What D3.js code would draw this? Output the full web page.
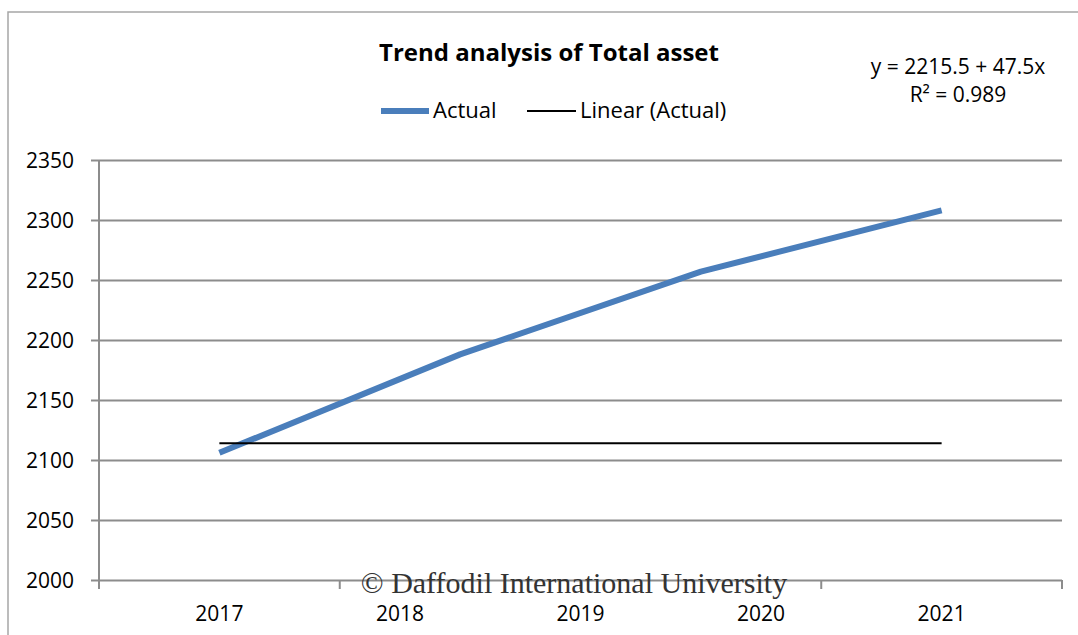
<!DOCTYPE html>
<html>
<head>
<meta charset="utf-8">
<script src="https://cdn.jsdelivr.net/npm/d3@7"></script>
<style>
  html, body { margin: 0; padding: 0; background: #fff; }
  svg { display: block; }
  text { font-family: "Open Sans", "Noto Sans", sans-serif; fill: #000; }
</style>
</head>
<body>
<div id="chart"></div>
<script>
// Total asset, yearly actual values and the fitted trend
const slots = ["p1", "p2", "p3", "p4"];
const actualValues = [2106, 2188, 2257, 2308];
const trendValue = 2114;
const yearLabels = [2017, 2018, 2019, 2020, 2021];
const yTicks = [2000, 2050, 2100, 2150, 2200, 2250, 2300, 2350];
const titleText = "Trend analysis of Total asset";
const equationLines = ["y = 2215.5 + 47.5x", "R² = 0.989"];
const legendNames = ["Actual", "Linear (Actual)"];

const W = 1078, H = 635;
const plot = { left: 99, right: 1062, top: 160, bottom: 580 };
const blue = "#4a7ebb";
const grid = "#8c8c8c";

const svg = d3.select("#chart").append("svg")
  .attr("width", W).attr("height", H);

// outer chart frame
svg.append("path")
  .attr("d", `M8,${H} V12 H${W}`)
  .attr("fill", "none").attr("stroke", "#a6a6a6").attr("stroke-width", 1.5);

const y = d3.scaleLinear().domain([2000, 2350]).range([plot.bottom, plot.top]);
const x = d3.scalePoint().domain(slots).range([plot.left, plot.right]).padding(0.5);
const band = d3.scaleBand().domain(slots).range([plot.left, plot.right]);
const yearX = d3.scaleLinear()
  .domain([yearLabels[0], yearLabels[yearLabels.length - 1]])
  .range([x(slots[0]), x(slots[slots.length - 1])]);

// horizontal gridlines with left ticks
const yAxis = d3.axisLeft(y).tickValues(yTicks).tickFormat(d3.format("d"))
  .tickSize(-(plot.right - plot.left)).tickPadding(14);
const gy = svg.append("g").attr("transform", `translate(${plot.left},0)`).call(yAxis)
  .attr("font-family", null).attr("font-size", null);
gy.select(".domain").remove();
gy.selectAll(".tick line").attr("stroke", grid).attr("stroke-width", 2);
gy.selectAll(".tick").append("line")
  .attr("x1", -8).attr("x2", 0).attr("stroke", grid).attr("stroke-width", 2);
gy.selectAll(".tick text")
  .style("font-size", "21px").style("fill", "#000")
  .attr("x", -25).attr("dy", "0.35em");

// vertical axis line
svg.append("line")
  .attr("x1", plot.left).attr("x2", plot.left)
  .attr("y1", plot.top).attr("y2", plot.bottom)
  .attr("stroke", grid).attr("stroke-width", 2);

// category boundary ticks along the bottom axis
const boundaries = slots.map(s => band(s)).concat([plot.right]);
svg.append("g").selectAll("line").data(boundaries).join("line")
  .attr("x1", d => d).attr("x2", d => d)
  .attr("y1", plot.bottom).attr("y2", plot.bottom + 9)
  .attr("stroke", grid).attr("stroke-width", 2);

// year labels
svg.append("g").selectAll("text").data(yearLabels).join("text")
  .attr("x", d => yearX(d)).attr("y", 621)
  .attr("text-anchor", "middle").style("font-size", "21px")
  .text(d => d);

// actual series
const line = d3.line().x((d, i) => x(slots[i])).y(d => y(d));
svg.append("path").datum(actualValues)
  .attr("d", line).attr("fill", "none")
  .attr("stroke", blue).attr("stroke-width", 6).attr("stroke-linejoin", "round");

// linear trend
svg.append("line")
  .attr("x1", x(slots[0])).attr("x2", x(slots[slots.length - 1]))
  .attr("y1", y(trendValue)).attr("y2", y(trendValue))
  .attr("stroke", "#000").attr("stroke-width", 2);

// title
svg.append("text").attr("x", 549).attr("y", 61)
  .attr("text-anchor", "middle").style("font-size", "24px").attr("font-weight", "bold")
  .text(titleText);

// regression equation
svg.append("g").selectAll("text").data(equationLines).join("text")
  .attr("x", 958).attr("y", (d, i) => 74 + i * 28)
  .attr("text-anchor", "middle").style("font-size", "21px")
  .text(d => d);

// legend
const lg = svg.append("g");
lg.append("line").attr("x1", 381).attr("x2", 429).attr("y1", 111).attr("y2", 111)
  .attr("stroke", blue).attr("stroke-width", 6);
lg.append("text").attr("x", 433).attr("y", 118).style("font-size", "22px").text(legendNames[0]);
lg.append("line").attr("x1", 527).attr("x2", 576).attr("y1", 111).attr("y2", 111)
  .attr("stroke", "#000").attr("stroke-width", 2);
lg.append("text").attr("x", 580).attr("y", 118).style("font-size", "22px").text(legendNames[1]);

// copyright notice
svg.append("text").attr("x", 574).attr("y", 593)
  .attr("text-anchor", "middle")
  .style("font-family", "'Liberation Serif', 'Times New Roman', serif")
  .style("font-size", "30px").style("fill", "#333")
  .text("© Daffodil International University");
</script>
</body>
</html>
